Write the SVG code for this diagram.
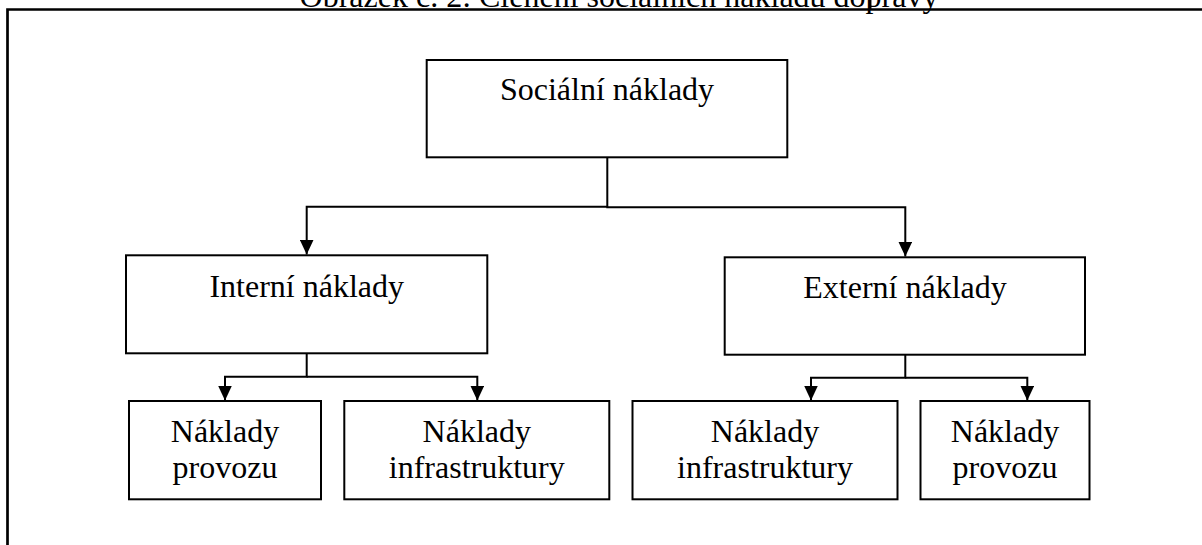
<svg xmlns="http://www.w3.org/2000/svg" width="1202" height="545" viewBox="0 0 1202 545">
<style>
  .box { fill: #ffffff; stroke: #000000; stroke-width: 2; }
  .lbl { font-family: "Liberation Serif", "Times New Roman", serif; font-size: 32px; fill: #000000; text-anchor: middle; }
  .con { fill: none; stroke: #000000; stroke-width: 2; }
</style>
<defs>
  <marker id="arr" viewBox="0 0 15 14" refX="15" refY="7" markerWidth="15" markerHeight="14" markerUnits="userSpaceOnUse" orient="auto">
    <path d="M0,0 L15,7 L0,14 Z" fill="#000000"/>
  </marker>
</defs>
<rect x="0" y="0" width="1202" height="545" fill="#ffffff"/>
<g id="frame">
  <text class="lbl" x="619" y="7">Obrázek č. 2: Členění sociálních nákladů dopravy</text>
  <path d="M7.5,545 V9.5 H1202" fill="none" stroke="#000000" stroke-width="2.7"/>
  <line x1="870.7" y1="0" x2="870.7" y2="9" stroke="#000000" stroke-width="1.5"/>
</g>
<g id="connectors">
  <path class="con" d="M607.3,157.3 V206.7 H306.7 V254.5" marker-end="url(#arr)"/>
  <path class="con" d="M607.3,206.7 V207.3 H905.3 V256.5" marker-end="url(#arr)"/>
  <path class="con" d="M306.7,353.3 V376.7 H225 V400.5" marker-end="url(#arr)"/>
  <path class="con" d="M306.7,376.7 H477.3 V400.5" marker-end="url(#arr)"/>
  <path class="con" d="M905.3,354.7 V377.7 H811 V400.5" marker-end="url(#arr)"/>
  <path class="con" d="M905.3,377.7 H1027.3 V400.5" marker-end="url(#arr)"/>
</g>
<g id="node-socialni">
  <rect class="box" x="426.7" y="60" width="360.6" height="97.3"/>
  <text class="lbl" x="607" y="100">Sociální náklady</text>
</g>
<g id="node-interni">
  <rect class="box" x="126" y="255.3" width="361.3" height="98"/>
  <text class="lbl" x="306.7" y="296.7">Interní náklady</text>
</g>
<g id="node-externi">
  <rect class="box" x="724.7" y="257.3" width="360.3" height="97.4"/>
  <text class="lbl" x="905" y="298.3">Externí náklady</text>
</g>
<g id="node-int-provoz">
  <rect class="box" x="129" y="401" width="192" height="98.3"/>
  <text class="lbl" x="225" y="441.7">Náklady</text>
  <text class="lbl" x="225" y="478.3">provozu</text>
</g>
<g id="node-int-infra">
  <rect class="box" x="344.3" y="401" width="265" height="98.3"/>
  <text class="lbl" x="476.8" y="441.7">Náklady</text>
  <text class="lbl" x="476.8" y="478.3">infrastruktury</text>
</g>
<g id="node-ext-infra">
  <rect class="box" x="632.5" y="401" width="265" height="98.3"/>
  <text class="lbl" x="765" y="441.7">Náklady</text>
  <text class="lbl" x="765" y="478.3">infrastruktury</text>
</g>
<g id="node-ext-provoz">
  <rect class="box" x="920.5" y="401" width="169" height="98.3"/>
  <text class="lbl" x="1005" y="441.7">Náklady</text>
  <text class="lbl" x="1005" y="478.3">provozu</text>
</g>
</svg>
